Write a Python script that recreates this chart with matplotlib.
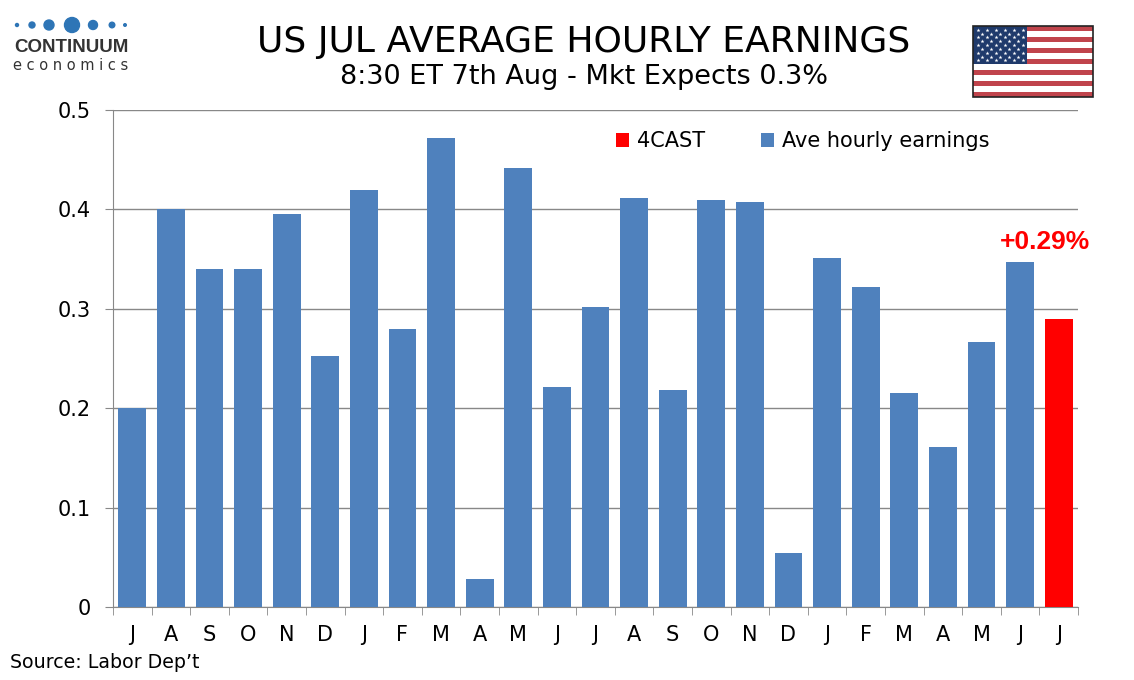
import matplotlib
matplotlib.use("Agg")
import matplotlib.pyplot as plt
from matplotlib.patches import Rectangle, Circle
import numpy as np

months = ["J", "A", "S", "O", "N", "D", "J", "F", "M", "A", "M", "J", "J",
          "A", "S", "O", "N", "D", "J", "F", "M", "A", "M", "J", "J"]
earnings = [0.20, 0.40, 0.34, 0.34, 0.395, 0.253, 0.42, 0.28, 0.472, 0.028,
            0.442, 0.221, 0.302, 0.411, 0.218, 0.409, 0.407, 0.054, 0.351,
            0.322, 0.215, 0.161, 0.267, 0.347]
forecast = [0.29]
forecast_label = "+0.29%"

title = "US JUL AVERAGE HOURLY EARNINGS"
subtitle = "8:30 ET 7th Aug - Mkt Expects 0.3%"
source = "Source: Labor Dep\u2019t"

BLUE = "#4F81BD"
RED = "#FF0000"
GRID = "#888888"

fig = plt.figure(figsize=(11.34, 6.8), dpi=100)
ax = fig.add_axes([113/1134, 1-607/680, (1078-113)/1134, (607-110)/680])

x_hist = np.arange(len(earnings))
x_fc = np.arange(len(earnings), len(earnings) + len(forecast))
b1 = ax.bar(x_hist, earnings, width=0.72, color=BLUE, label="Ave hourly earnings", zorder=3)
b2 = ax.bar(x_fc, forecast, width=0.72, color=RED, label="4CAST", zorder=3)

ax.set_xlim(-0.5, len(months) - 0.5)
ax.set_ylim(0, 0.5)
ax.set_yticks([0, 0.1, 0.2, 0.3, 0.4, 0.5])
ax.set_yticklabels(["0", "0.1", "0.2", "0.3", "0.4", "0.5"])
ax.yaxis.grid(True, color=GRID, linewidth=1.0, zorder=0)
ax.set_xticks(np.arange(len(months)))
ax.set_xticklabels(months)
ax.set_xticks(np.arange(-0.5, len(months), 1.0), minor=True)
ax.tick_params(axis="x", which="major", length=0, labelsize=15, pad=13)
ax.tick_params(axis="x", which="minor", length=6, color=GRID, direction="out")
ax.tick_params(axis="y", length=6, color=GRID, direction="out", labelsize=15, pad=10)
for s in ["top", "right"]:
    ax.spines[s].set_visible(False)
for s in ["left", "bottom"]:
    ax.spines[s].set_color(GRID)

ax.text(x_fc[0] - 0.35, 0.36, forecast_label, ha="center", va="baseline", color=RED,
        fontsize=19, fontweight="bold", family="Liberation Sans", zorder=4)

leg = ax.legend(handles=[b2, b1], loc="upper left", ncol=2, frameon=False,
                fontsize=15, handlelength=0.65, handleheight=0.65, handletextpad=0.35,
                columnspacing=2.7, bbox_to_anchor=((597-113)/965, 0.995))

fig.text(584/1134, 1-42/680, title, ha="center", va="center", fontsize=26)
fig.text(584/1134, 1-77/680, subtitle, ha="center", va="center", fontsize=19.5)
fig.text(10/1134, 1-662/680, source, ha="left", va="center", fontsize=13.7)

# overlay in pixel coordinates for logo and flag
ov = fig.add_axes([0, 0, 1, 1], zorder=-1)
ov.set_xlim(0, 1134)
ov.set_ylim(680, 0)
ov.axis("off")

dot_x = [17, 32, 49, 72, 93, 112, 125]
dot_r = [1.5, 3, 5, 7.5, 4.5, 2.8, 1.3]
for dx, dr in zip(dot_x, dot_r):
    ov.add_patch(Circle((dx, 25), dr, color="#2E75B6"))
fig.text(71/1134, 1-48/680, "CONTINUUM", ha="center", va="center", fontsize=13.5,
         fontweight="bold", color="#333333", family="Liberation Sans")
fig.text(71/1134, 1-65/680, "e c o n o m i c s", ha="center", va="center", fontsize=10.5,
         color="#333333", family="DejaVu Sans")

# flag
fx0, fy0, fw, fh = 973, 26, 120, 71
for i in range(13):
    c = "#C0444C" if i % 2 == 0 else "white"
    ov.add_patch(Rectangle((fx0, fy0 + i * fh / 13), fw, fh / 13, color=c, lw=0))
cw, ch = 0.45 * fw, 7 * fh / 13
ov.add_patch(Rectangle((fx0, fy0), cw, ch, color="#1F3A6B", lw=0))
sx, sy = [], []
for r in range(9):
    cols = range(1, 12, 2) if r % 2 == 0 else range(2, 11, 2)
    for k in cols:
        sx.append(fx0 + k * cw / 12)
        sy.append(fy0 + (r + 1) * ch / 10)
ov.scatter(sx, sy, marker="*", s=9, color="white", linewidths=0)
ov.add_patch(Rectangle((fx0, fy0), fw, fh, fill=False, edgecolor="#222222", linewidth=1.2))

fig.savefig("out.png", dpi=100)
